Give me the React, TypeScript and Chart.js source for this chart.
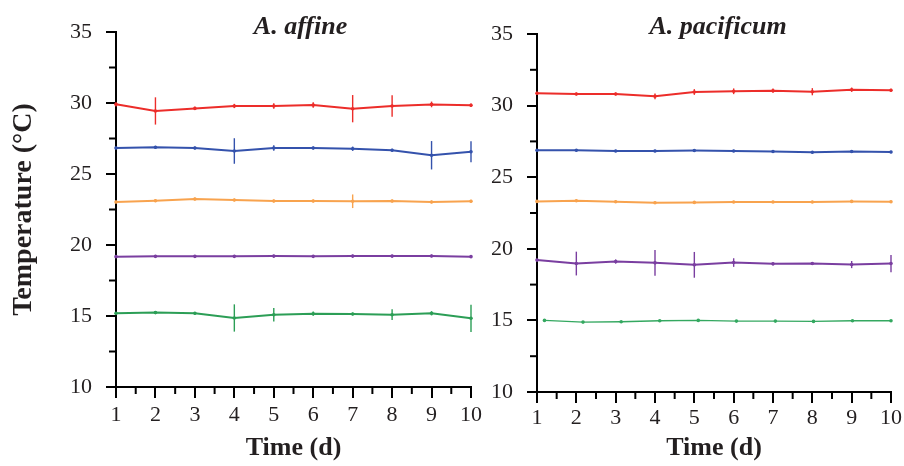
import React, { useEffect, useRef } from "react";
import { Chart, registerables } from "chart.js";

Chart.register(...registerables);

// ---- data ----
const days = [1, 2, 3, 4, 5, 6, 7, 8, 9, 10];
const xMinorTicks = [1.5, 2.5, 3.5, 4.5, 5.5, 6.5, 7.5, 8.5, 9.5];
const yMinorTicks = [12.5, 17.5, 22.5, 27.5, 32.5];

// A. affine
const affRed = [29.91, 29.44, 29.62, 29.79, 29.79, 29.86, 29.6, 29.79, 29.9, 29.84];
const affRedErr = [0.15, 0.96, 0.12, 0.15, 0.2, 0.2, 0.96, 0.76, 0.2, 0.12];
const affBlue = [26.83, 26.88, 26.83, 26.62, 26.83, 26.83, 26.78, 26.67, 26.32, 26.57];
const affBlueErr = [0.1, 0.1, 0.1, 0.9, 0.2, 0.1, 0.15, 0.1, 1.0, 0.74];
const affOrange = [23.03, 23.12, 23.24, 23.17, 23.1, 23.1, 23.08, 23.1, 23.03, 23.08];
const affOrangeErr = [0.1, 0.1, 0.1, 0.1, 0.1, 0.1, 0.48, 0.1, 0.1, 0.1];
const affPurple = [19.18, 19.2, 19.2, 19.2, 19.22, 19.2, 19.22, 19.22, 19.23, 19.18];
const affPurpleErr = [0.1, 0.1, 0.1, 0.1, 0.1, 0.1, 0.1, 0.1, 0.1, 0.1];
const affGreen = [15.19, 15.24, 15.19, 14.86, 15.09, 15.16, 15.14, 15.09, 15.19, 14.84];
const affGreenErr = [0.1, 0.1, 0.1, 0.96, 0.48, 0.15, 0.1, 0.38, 0.15, 0.96];

// A. pacificum
const pacRed = [30.86, 30.81, 30.81, 30.65, 30.95, 31.0, 31.04, 30.97, 31.11, 31.07];
const pacRedErr = [0.1, 0.1, 0.1, 0.2, 0.2, 0.2, 0.15, 0.25, 0.15, 0.1];
const pacBlue = [26.88, 26.88, 26.83, 26.83, 26.86, 26.83, 26.79, 26.74, 26.79, 26.76];
const pacBlueErr = [0.08, 0.08, 0.08, 0.08, 0.08, 0.08, 0.08, 0.08, 0.08, 0.08];
const pacOrange = [23.31, 23.36, 23.29, 23.22, 23.24, 23.27, 23.27, 23.27, 23.31, 23.29];
const pacOrangeErr = [0.08, 0.08, 0.08, 0.08, 0.08, 0.08, 0.08, 0.08, 0.08, 0.08];
const pacPurple = [19.21, 18.97, 19.11, 19.02, 18.88, 19.04, 18.95, 18.97, 18.9, 18.97];
const pacPurpleErr = [0.1, 0.83, 0.15, 0.9, 0.9, 0.3, 0.1, 0.1, 0.25, 0.6];
const pacGreenDays = [1.19, 2.17, 3.14, 4.12, 5.1, 6.07, 7.06, 8.03, 9.02, 10];
const pacGreen = [15.0, 14.88, 14.91, 14.98, 15.0, 14.95, 14.95, 14.93, 14.98, 14.98];

const RED = "rgb(236,45,42)";
const BLUE = "rgb(52,82,172)";
const ORANGE = "rgb(248,163,78)";
const PURPLE = "rgb(122,62,160)";
const GREEN = "rgb(44,158,86)";
const GREEN2 = "rgb(52,168,96)";

const FONT = "'Liberation Serif', 'Times New Roman', serif";
const TEXT = "#231f20";

function series(xs: number[], ys: number[]) {
  return ys.map((y, i) => ({ x: xs[i], y }));
}

function ds(color: string, xs: number[], ys: number[], errs: number[] | null, width = 2) {
  return {
    data: series(xs, ys),
    errors: errs,
    borderColor: color,
    backgroundColor: color,
    borderWidth: width,
    pointRadius: 1.8,
    pointBorderWidth: 0,
    pointHoverRadius: 0,
    tension: 0,
    clip: false,
  };
}

const errorBarPlugin = {
  id: "errorBars",
  afterDatasetsDraw(chart: any) {
    const ctx = chart.ctx;
    const xs = chart.scales.x;
    const ys = chart.scales.y;
    chart.data.datasets.forEach((d: any) => {
      if (!d.errors) return;
      ctx.save();
      ctx.strokeStyle = d.borderColor;
      ctx.lineWidth = 1.4;
      d.data.forEach((p: any, i: number) => {
        const e = d.errors[i];
        const px = xs.getPixelForValue(p.x);
        ctx.beginPath();
        ctx.moveTo(px, ys.getPixelForValue(p.y - e));
        ctx.lineTo(px, ys.getPixelForValue(p.y + e));
        ctx.stroke();
      });
      ctx.restore();
    });
  },
};

const minorTickPlugin = {
  id: "minorTicks",
  afterDraw(chart: any) {
    const ctx = chart.ctx;
    const xs = chart.scales.x;
    const ys = chart.scales.y;
    const area = chart.chartArea;
    ctx.save();
    ctx.strokeStyle = "#000";
    ctx.lineWidth = 2;
    xMinorTicks.forEach((v) => {
      const px = xs.getPixelForValue(v);
      ctx.beginPath();
      ctx.moveTo(px, area.bottom);
      ctx.lineTo(px, area.bottom + 7);
      ctx.stroke();
    });
    yMinorTicks.forEach((v) => {
      const py = ys.getPixelForValue(v);
      ctx.beginPath();
      ctx.moveTo(area.left, py);
      ctx.lineTo(area.left - 7, py);
      ctx.stroke();
    });
    ctx.restore();
  },
};

const panelTitlePlugin = {
  id: "panelTitle",
  afterDraw(chart: any, _args: any, opts: any) {
    if (!opts || !opts.text) return;
    const ctx = chart.ctx;
    const area = chart.chartArea;
    ctx.save();
    ctx.font = `italic bold 26px ${FONT}`;
    ctx.fillStyle = TEXT;
    ctx.textAlign = "center";
    ctx.textBaseline = "alphabetic";
    ctx.fillText(opts.text, (area.left + area.right) / 2 + (opts.dx || 0), opts.y);
    ctx.restore();
  },
};

type Panel = {
  title: string;
  titleDx: number;
  titleY: number;
  top: number;
  right: number;
  yWidth: number;
  xHeight: number;
  xPad: number;
  showYTitle: boolean;
  datasets: any[];
};

function makeConfig(p: Panel): any {
  return {
    type: "line",
    data: { datasets: p.datasets },
    plugins: [errorBarPlugin, minorTickPlugin, panelTitlePlugin],
    options: {
      animation: false,
      responsive: false,
      devicePixelRatio: 1,
      events: [],
      layout: { padding: { left: 0, top: p.top, right: p.right, bottom: 0 } },
      plugins: {
        legend: { display: false },
        tooltip: { enabled: false },
        title: { display: false },
        panelTitle: { text: p.title, dx: p.titleDx, y: p.titleY },
      },
      scales: {
        x: {
          type: "linear",
          min: 1,
          max: 10,
          afterFit: (s: any) => {
            s.height = p.xHeight;
          },
          ticks: {
            stepSize: 1,
            autoSkip: false,
            maxRotation: 0,
            padding: p.xPad,
            color: TEXT,
            font: { family: FONT, size: 22 },
          },
          grid: {
            drawOnChartArea: false,
            color: "#000",
            tickLength: 11,
            tickWidth: 2,
            lineWidth: 2,
          },
          border: { display: true, color: "#000", width: 2 },
          title: {
            display: true,
            text: "Time (d)",
            color: TEXT,
            font: { family: FONT, size: 26, weight: "bold" },
            padding: { top: 0, bottom: 2 },
          },
        },
        y: {
          type: "linear",
          min: 10,
          max: 35,
          afterFit: (s: any) => {
            s.width = p.yWidth;
          },
          ticks: {
            stepSize: 5,
            padding: 14,
            color: TEXT,
            font: { family: FONT, size: 22 },
          },
          grid: {
            drawOnChartArea: false,
            color: "#000",
            tickLength: 10,
            tickWidth: 2,
            lineWidth: 2,
          },
          border: { display: true, color: "#000", width: 2 },
          title: {
            display: p.showYTitle,
            text: "Temperature (°C)",
            color: TEXT,
            font: { family: FONT, size: 28, weight: "bold" },
            padding: { top: 7, bottom: 0 },
          },
        },
      },
    },
  };
}

const LEFT_W = 486;
const RIGHT_W = 904 - LEFT_W;

function ChartCanvas({ panel, width, left }: { panel: Panel; width: number; left: number }) {
  const ref = useRef<HTMLCanvasElement | null>(null);
  useEffect(() => {
    if (!ref.current) return;
    const chart = new Chart(ref.current, makeConfig(panel));
    return () => chart.destroy();
  }, []);
  return (
    <canvas
      ref={ref}
      width={width}
      height={466}
      style={{ position: "absolute", left, top: 0, width, height: 466 }}
    />
  );
}

const leftPanel: Panel = {
  title: "A. affine",
  titleDx: 7,
  titleY: 34,
  top: 32,
  right: LEFT_W - 472,
  yWidth: 116,
  xHeight: 466 - 387,
  xPad: 4,
  showYTitle: true,
  datasets: [
    ds(RED, days, affRed, affRedErr),
    ds(BLUE, days, affBlue, affBlueErr),
    ds(ORANGE, days, affOrange, affOrangeErr),
    ds(PURPLE, days, affPurple, affPurpleErr),
    ds(GREEN, days, affGreen, affGreenErr),
  ],
};

const rightPanel: Panel = {
  title: "A. pacificum",
  titleDx: 4,
  titleY: 34,
  top: 34,
  right: 904 - 894,
  yWidth: 537 - LEFT_W,
  xHeight: 466 - 392,
  xPad: 2,
  showYTitle: false,
  datasets: [
    ds(RED, days, pacRed, pacRedErr),
    ds(BLUE, days, pacBlue, pacBlueErr),
    ds(ORANGE, days, pacOrange, pacOrangeErr),
    ds(PURPLE, days, pacPurple, pacPurpleErr),
    ds(GREEN2, pacGreenDays, pacGreen, null, 1.4),
  ],
};

export default function App() {
  return (
    <div
      style={{
        position: "absolute",
        left: 0,
        top: 0,
        width: 904,
        height: 466,
        background: "#fff",
        overflow: "hidden",
      }}
    >
      <ChartCanvas panel={leftPanel} width={LEFT_W} left={0} />
      <ChartCanvas panel={rightPanel} width={RIGHT_W} left={LEFT_W} />
    </div>
  );
}
